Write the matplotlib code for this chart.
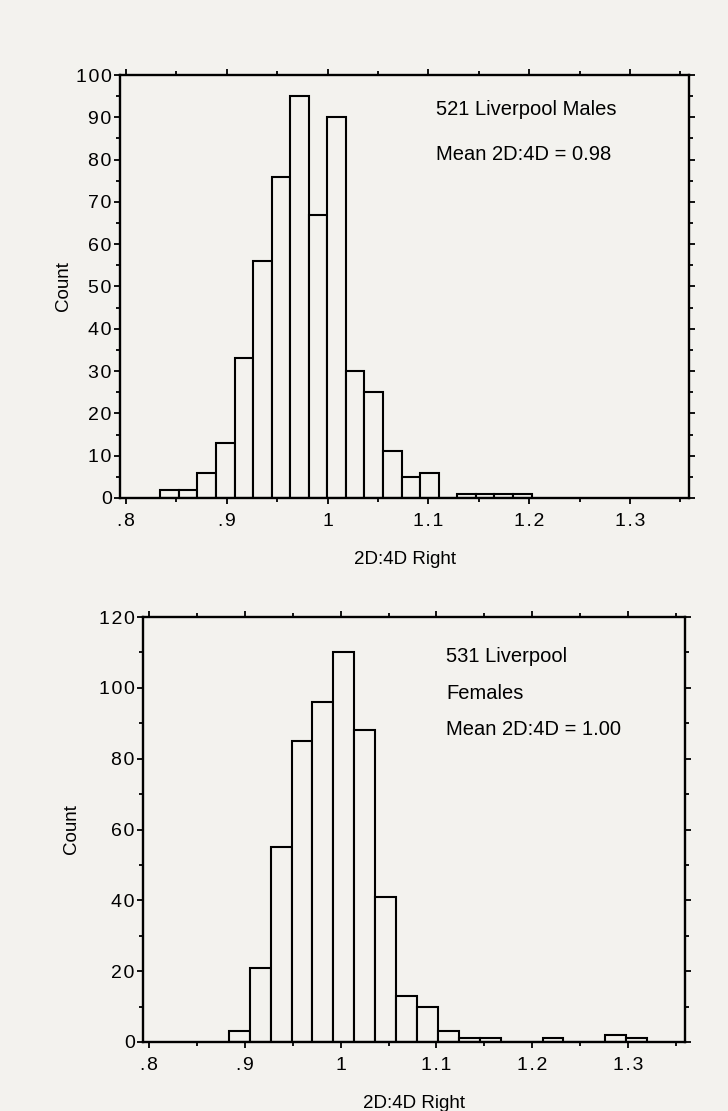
import numpy as np
import matplotlib
matplotlib.use("Agg")
import matplotlib.pyplot as plt
from matplotlib.ticker import MultipleLocator, FuncFormatter

plt.rcParams['font.family'] = ['Liberation Sans', 'DejaVu Sans']

# male histogram (2D:4D right hand)
male_counts = [2, 2, 6, 13, 33, 56, 76, 95, 67, 90, 30, 25, 11, 5, 6, 0, 1, 1, 1, 1]
male_first_edge = 0.834
male_last_edge = 1.2023

# female histogram
female_counts = [3, 21, 55, 85, 96, 110, 88, 41, 13, 10, 3, 1, 1, 0, 0, 1, 0, 0, 2, 1]
female_first_edge = 0.8833
female_last_edge = 1.3199

bg = '#f3f2ee'
SP = '\u200a'   # hair space, the old scan has loose letter spacing on ticks

def fmt_x(v, pos):
    s = '{:.1f}'.format(v)
    if s.startswith('0'):
        s = s[1:]
    if s.endswith('.0'):
        s = s[:-2]
    return SP.join(s)

def fmt_y(v, pos):
    return SP.join('{:.0f}'.format(v))

def draw_hist(ax, counts, first, last, ymax, ymajor, xlim):
    edges = np.linspace(first, last, len(counts) + 1)
    ax.bar(edges[:-1], counts, width=np.diff(edges), align='edge',
           color=bg, edgecolor='black', linewidth=1.5, zorder=2)
    ax.set_xlim(*xlim)
    ax.set_ylim(0, ymax)
    ax.set_facecolor(bg)
    ax.xaxis.set_major_locator(MultipleLocator(0.1))
    ax.xaxis.set_minor_locator(MultipleLocator(0.05))
    ax.yaxis.set_major_locator(MultipleLocator(ymajor))
    ax.yaxis.set_minor_locator(MultipleLocator(ymajor / 2))
    ax.xaxis.set_major_formatter(FuncFormatter(fmt_x))
    ax.yaxis.set_major_formatter(FuncFormatter(fmt_y))
    ax.tick_params(which='both', direction='out', top=True, right=True,
                   width=1.3, labelsize=14, colors='black')
    ax.tick_params(axis='x', pad=7)
    ax.tick_params(axis='y', pad=2)
    ax.tick_params(which='major', length=4)
    ax.tick_params(which='minor', length=3)
    for s in ax.spines.values():
        s.set_linewidth(1.7)
    ax.set_xlabel('2D:4D Right', fontsize=13.5, labelpad=15)
    ax.set_ylabel('Count', fontsize=13.5)

fig = plt.figure(figsize=(7.28, 11.11), dpi=100, facecolor=bg)
W, H = 728, 1111

# top panel: frame x 120..689, y 75..498 (pixels)
ax1 = fig.add_axes([120 / W, 1 - 498 / H, (689 - 120) / W, (498 - 75) / H])
draw_hist(ax1, male_counts, male_first_edge, male_last_edge, 100, 10, (0.794, 1.3585))
ax1.yaxis.set_label_coords(-0.085, 0.5)
ax1.text(0.555, 0.905, '521 Liverpool Males', transform=ax1.transAxes, fontsize=14.5)
ax1.text(0.555, 0.80, 'Mean 2D:4D = 0.98', transform=ax1.transAxes, fontsize=14.5)

# bottom panel: frame x 143..685, y 617..1042
ax2 = fig.add_axes([143 / W, 1 - 1042 / H, (685 - 143) / W, (1042 - 617) / H])
draw_hist(ax2, female_counts, female_first_edge, female_last_edge, 120, 20, (0.7937, 1.3595))
ax2.yaxis.set_label_coords(-0.117, 0.5)
ax2.text(0.559, 0.893, '531 Liverpool', transform=ax2.transAxes, fontsize=14.5)
ax2.text(0.559, 0.808, 'Females', transform=ax2.transAxes, fontsize=14.5)
ax2.text(0.559, 0.722, 'Mean 2D:4D = 1.00', transform=ax2.transAxes, fontsize=14.5)

fig.savefig('out.png', dpi=100, facecolor=bg)
